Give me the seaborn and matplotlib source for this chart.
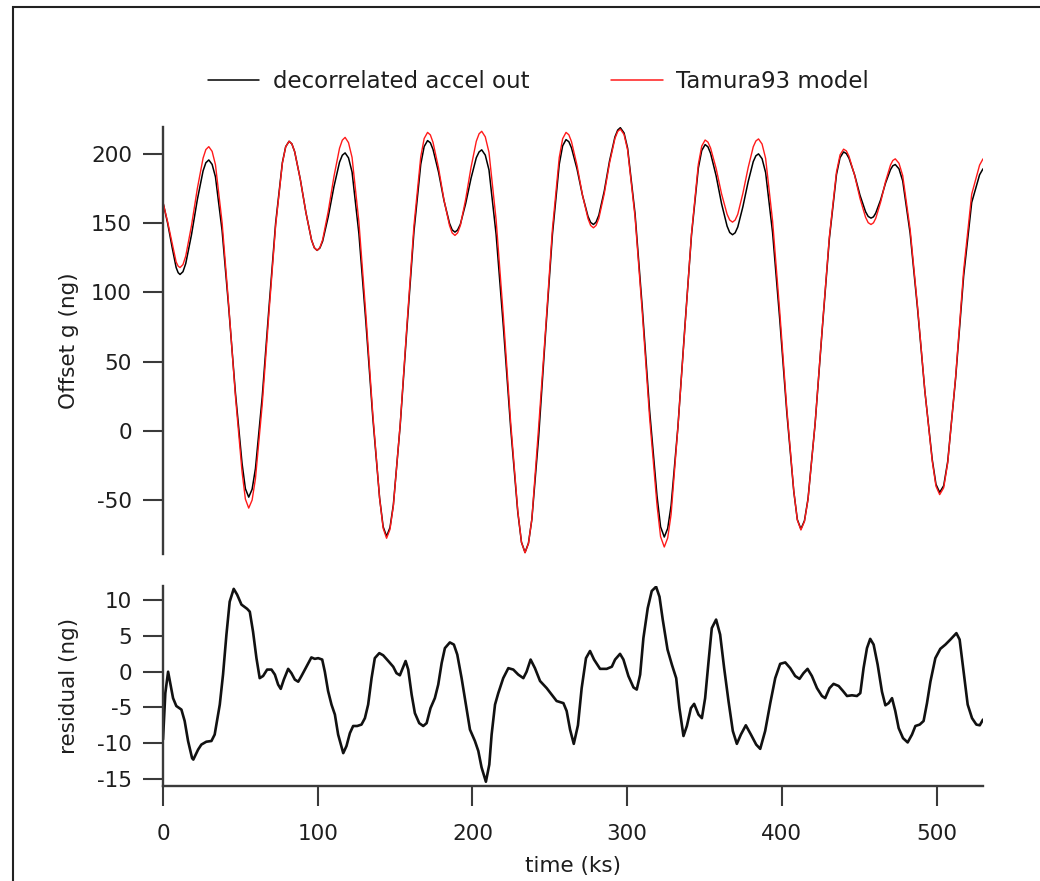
import matplotlib
matplotlib.use("Agg")
import matplotlib.pyplot as plt
from matplotlib.patches import Rectangle
import seaborn as sns
import pandas as pd

# ---- data ----
time_ks = [0, 3, 6, 8.5, 9.8, 11, 12.9, 14.7, 18.4, 22.2, 25.9, 27.7, 29.6,
           31.75, 33.9, 38.2, 42.5, 46.8, 51.1, 53.25, 55.4,
           57.6, 59.75, 64.1, 68.45, 72.8, 77.15, 79.3, 81.5,
           83.3, 85.1, 88.7, 92.4, 96.0, 97.8, 99.6,
           101.4, 103.2, 106.8, 110.5, 114.1, 115.9, 117.7,
           119.9, 122.2, 126.6, 131.1, 135.6, 140.0, 142.3, 144.5,
           146.7, 148.9, 153.3, 157.75, 162.2, 166.6, 168.8, 171.0,
           172.8, 174.5, 178.1, 181.6, 185.2, 186.9, 188.7,
           190.4, 192.2, 195.6, 199.1, 202.5, 204.3, 206.0,
           208.3, 210.7, 215.3, 220.0, 224.7, 229.3, 231.7, 234.0,
           236.2, 238.4, 242.8, 247.25, 251.7, 256.1, 258.3, 260.5,
           262.3, 264.0, 267.6, 271.1, 274.7, 276.4, 278.2,
           279.9, 281.7, 285.2, 288.6, 292.1, 293.9, 295.6,
           298.0, 300.3, 305.1, 309.8, 314.5, 319.3, 321.6, 324.0,
           326.2, 328.4, 332.8, 337.2, 341.6, 346.0, 348.2, 350.4,
           352.2, 353.9, 357.5, 361.0, 364.6, 366.3, 368.1,
           369.8, 371.5, 374.8, 378.2, 381.5, 383.2, 384.9,
           387.2, 389.5, 394.0, 398.6, 403.2, 407.7, 410.0, 412.3,
           414.6, 416.9, 421.5, 426.1, 430.7, 435.3, 437.6, 439.9,
           441.7, 443.4, 447.0, 450.5, 454.1, 455.8, 457.6,
           459.2, 460.7, 463.9, 467.0, 470.2, 471.7, 473.3,
           475.7, 478.1, 482.9, 487.7, 492.4, 497.2, 499.6, 502.0,
           504.6, 507.2, 512.3, 517.5, 522.7, 527.8, 530.0]

accel_out = [165, 150, 132, 118, 114.3, 113, 115.0, 120.9, 141.6, 167.1, 187.8, 193.7, 195.7,
             192.5, 183.5, 144.6, 88.6, 27.7, -23.5, -41.7, -47.8,
             -42.1, -27.2, 24.2, 88.4, 150.1, 193.8, 205.3, 209.2,
             207.3, 201.7, 182.0, 157.6, 137.9, 132.3, 130.4,
             132.1, 137.1, 154.7, 176.5, 194.1, 199.1, 200.8,
             197.2, 187.0, 142.7, 79.0, 9.7, -48.4, -69.2, -76.1,
             -69.8, -53.2, 3.9, 75.4, 144.0, 192.6, 205.4, 209.7,
             208.1, 203.4, 186.9, 166.4, 149.9, 145.2, 143.6,
             145.1, 149.3, 164.1, 182.5, 197.3, 201.5, 203.0,
             199.2, 188.5, 142.0, 75.1, 2.4, -58.6, -80.4, -87.7,
             -81.1, -63.9, -4.2, 70.3, 141.8, 192.5, 205.9, 210.4,
             208.9, 204.5, 189.2, 170.3, 154.9, 150.6, 149.1,
             150.8, 155.8, 173.2, 194.9, 212.3, 217.3, 219.0,
             215.2, 204.2, 156.9, 88.9, 15.0, -47.0, -69.2, -76.6,
             -70.4, -53.9, 2.8, 73.6, 141.6, 189.8, 202.5, 206.8,
             205.2, 200.6, 184.3, 164.2, 147.9, 143.3, 141.7,
             143.1, 147.3, 161.9, 179.9, 194.5, 198.7, 200.1,
             196.6, 186.6, 143.2, 80.9, 13.2, -43.7, -64.0, -70.8,
             -64.8, -49.0, 5.4, 73.5, 138.9, 185.2, 197.4, 201.5,
             200.3, 196.9, 185.0, 170.2, 158.3, 154.9, 153.7,
             154.6, 157.4, 167.1, 179.0, 188.7, 191.5, 192.4,
             189.3, 180.6, 142.7, 88.2, 29.0, -20.7, -38.5, -44.4,
             -39.5, -22, 38, 112, 165, 185, 189.3]

tamura93 = [165, 151, 135, 122, 119.0, 118, 120.1, 126.3, 148.2, 175.1, 197.0, 203.2, 205.3,
            201.9, 192.3, 150.5, 90.5, 25.2, -29.6, -49.2, -55.7,
            -49.9, -34.5, 18.5, 84.7, 148.3, 193.3, 205.2, 209.2,
            207.3, 201.7, 182.0, 157.6, 137.9, 132.3, 130.4,
            132.4, 138.2, 158.6, 183.8, 204.2, 210.0, 212.0,
            208.2, 197.5, 151.2, 84.6, 12.2, -48.6, -70.3, -77.5,
            -71.1, -54.1, 4.6, 77.8, 148.2, 198.0, 211.2, 215.6,
            213.8, 208.5, 189.9, 166.9, 148.3, 143.0, 141.2,
            143.0, 148.4, 167.2, 190.4, 209.2, 214.6, 216.4,
            212.4, 201.2, 152.5, 82.5, 6.4, -57.6, -80.4, -88.0,
            -81.3, -63.7, 3.0, 72.9, 145.8, 197.4, 211.0, 215.6,
            213.9, 209.0, 191.8, 170.5, 153.3, 148.4, 146.7,
            148.4, 153.5, 171.3, 193.4, 211.2, 216.3, 218.0,
            214.1, 202.9, 154.6, 85.2, 9.8, -53.6, -76.3, -83.8,
            -77.3, -60.3, 2.5, 72.0, 142.5, 192.5, 205.7, 210.1,
            208.6, 204.4, 189.6, 171.3, 156.5, 152.3, 150.8,
            152.3, 156.5, 171.6, 190.1, 205.2, 209.4, 210.9,
            207.2, 196.8, 151.6, 86.6, 16.0, -43.3, -64.4, -71.5,
            -65.4, -49.5, 5.5, 74.3, 140.3, 187.0, 199.4, 203.5,
            202.2, 198.3, 184.7, 167.9, 154.3, 150.4, 149.1,
            150.3, 153.6, 165.5, 180.1, 192.0, 195.3, 196.5,
            193.3, 184.4, 145.6, 89.8, 29.2, -21.8, -39.9, -46.0,
            -41, -23, 39, 116, 171, 192, 196.5]

res_time_ks = [0, 1.5, 3.3, 6.5, 8.6, 11.9, 14.0, 16.2, 18.8, 19.6, 22.7, 24.8, 28.0, 31.3,
               33.4, 36.7, 38.8, 41.0, 43.1, 45.7, 47.9, 50.7, 54.4, 56.1, 58.2, 60.4,
               62.5, 64.7, 67.3, 70.1, 72.3, 74.4, 76.1, 78.1, 80.9, 83.0, 85.2, 87.4,
               89.5, 92.7, 95.9, 98.1, 100.3, 102.9, 104.6, 106.7, 108.9, 111.1, 113.2,
               116.5, 118.6, 120.8, 122.9, 125.5, 128.3, 130.5, 132.6, 134.8, 136.9,
               139.8, 142.3, 145.6, 148.8, 150.9, 153.1, 155.3, 156.8, 158.5, 160.7,
               162.8, 165.6, 168.2, 170.4, 172.9, 175.7, 177.9, 180.1, 182.2, 185.4,
               188.0, 190.2, 193.0, 195.8, 198.4, 201.6, 203.8, 205.9, 208.7, 210.9,
               212.4, 214.6, 216.7, 219.9, 223.2, 226.4, 229.6, 232.9, 235.0, 237.6,
               240.4, 243.7, 248.0, 251.2, 254.4, 258.8, 260.9, 263.1, 265.5, 268.2,
               270.6, 273.4, 276.0, 278.6, 282.5, 286.8, 290.1, 292.2, 295.4, 297.6,
               300.8, 304.1, 306.2, 308.4, 310.5, 313.3, 315.9, 318.7, 320.9, 323.0,
               326.1, 328.9, 331.7, 333.8, 336.4, 338.6, 341.2, 343.3, 346.1, 348.3,
               350.4, 352.6, 354.7, 357.5, 360.1, 362.7, 365.5, 368.3, 370.9, 373.5,
               376.7, 380.0, 383.4, 386.0, 389.2, 392.5, 395.7, 398.9, 402.2, 405.4,
               408.6, 411.4, 414.0, 416.6, 419.4, 422.7, 425.9, 428.0, 430.8, 433.4,
               436.7, 439.5, 442.1, 445.3, 448.5, 450.7, 452.8, 455.0, 457.1, 459.3,
               461.9, 464.7, 466.9, 469.0, 471.2, 473.3, 475.5, 478.3, 481.3, 484.1,
               486.3, 489.1, 491.6, 493.8, 496.0, 499.2, 502.4, 505.7, 508.9, 512.8,
               514.9, 517.5, 520.1, 522.9, 525.7, 527.9, 530.0]

residual = [-9.5, -3.0, 0.0, -3.7, -4.8, -5.3, -6.9, -9.7, -12.1, -12.3, -10.9, -10.2, -9.8, -9.7,
            -8.8, -4.6, -0.4, 5.2, 9.8, 11.6, 10.8, 9.4, 8.8, 8.4, 5.6, 1.9,
            -0.9, -0.6, 0.3, 0.3, -0.4, -1.8, -2.4, -1.1, 0.4, -0.2, -1.1, -1.4,
            -0.6, 0.7, 2.0, 1.8, 1.9, 1.7, 0.0, -2.7, -4.6, -6.0, -8.8,
            -11.4, -10.4, -8.6, -7.6, -7.6, -7.4, -6.5, -4.6, -0.9, 1.9,
            2.6, 2.3, 1.5, 0.7, -0.2, -0.5, 0.7, 1.5, 0.3, -3.2,
            -5.8, -7.2, -7.6, -7.2, -5.1, -3.7, -1.8, 1.2, 3.3, 4.1,
            3.8, 2.4, -0.9, -4.6, -8.1, -9.7, -11.1, -13.4, -15.4, -13.0,
            -8.8, -4.6, -3.0, -0.9, 0.5, 0.3, -0.4, -0.9, 0.0, 1.7,
            0.5, -1.3, -2.3, -3.2, -4.1, -4.4, -5.5, -8.1, -10.1, -7.5,
            -2.3, 1.9, 2.9, 1.7, 0.4, 0.4, 0.7, 1.7, 2.5, 1.7,
            -0.6, -2.2, -2.5, -0.4, 4.7, 8.9, 11.3, 11.9, 10.5, 7.3,
            3.1, 1.0, -0.9, -5.1, -9.0, -7.6, -5.1, -4.5, -6.0, -6.5,
            -3.7, 1.4, 6.1, 7.3, 5.2, 0.5, -4.1, -8.3, -10.1, -8.8,
            -7.5, -8.8, -10.2, -10.8, -8.3, -4.4, -0.9, 1.1, 1.3, 0.5,
            -0.6, -1.0, -0.2, 0.4, -0.6, -2.3, -3.4, -3.7, -2.3, -1.7,
            -2.0, -2.7, -3.4, -3.3, -3.4, -3.0, 0.5, 3.3, 4.6, 3.8,
            1.0, -2.8, -4.7, -4.4, -3.7, -5.5, -7.9, -9.3, -9.9, -8.8,
            -7.6, -7.4, -6.9, -4.4, -1.4, 1.9, 3.2, 3.8, 4.5, 5.4,
            4.5, 0.0, -4.6, -6.5, -7.4, -7.5, -6.7]

offset_ticks = [-50, 0, 50, 100, 150, 200]
residual_ticks = [-15, -10, -5, 0, 5, 10]
time_ticks = [0, 100, 200, 300, 400, 500]
series_labels = ["decorrelated accel out", "Tamura93 model"]

# ---- styling ----
sns.set_style("ticks")
plt.rcParams["font.family"] = ["DejaVu Sans"]
AX_COL = "#3a3a3a"
TXT_COL = "#1e1e1e"
FS = 15.5

W, H = 1040, 881
fig = plt.figure(figsize=(W / 100, H / 100), dpi=100)
ax1 = fig.add_axes([163 / W, 1 - 553.5 / H, 820 / W, 426.5 / H])
ax2 = fig.add_axes([163 / W, 1 - 786 / H, 820 / W, 200 / H])

top = pd.DataFrame({"t": time_ks, "out": accel_out, "model": tamura93})
res = pd.DataFrame({"t": res_time_ks, "res": residual})

sns.lineplot(data=top, x="t", y="out", ax=ax1, color="black", lw=1.1,
             estimator=None, label=series_labels[0])
sns.lineplot(data=top, x="t", y="model", ax=ax1, color="#ff1a1a", lw=1.0,
             estimator=None, label=series_labels[1])
sns.lineplot(data=res, x="t", y="res", ax=ax2, color="#111111", lw=1.9,
             estimator=None)

handles, labels = ax1.get_legend_handles_labels()
if ax1.get_legend() is not None:
    ax1.get_legend().remove()
if ax2.get_legend() is not None:
    ax2.get_legend().remove()

# top panel
ax1.set_xlim(0, 530)
ax1.set_ylim(-88.5, 219.5)
ax1.set_yticks(offset_ticks)
ax1.set_yticklabels([str(v) for v in offset_ticks])
ax1.set_xticks([])
for s in ["top", "right", "bottom"]:
    ax1.spines[s].set_visible(False)
ax1.set_xlabel("")
ax1.set_ylabel("Offset g (ng)", fontsize=FS, color=TXT_COL)
ax1.yaxis.set_label_coords(-0.102, 0.5)

# bottom panel
ax2.set_xlim(0, 530)
ax2.set_ylim(-16, 12)
ax2.set_yticks(residual_ticks)
ax2.set_yticklabels([str(v) for v in residual_ticks])
ax2.set_xticks(time_ticks)
ax2.set_xticklabels([str(v) for v in time_ticks])
for s in ["top", "right"]:
    ax2.spines[s].set_visible(False)
ax2.set_ylabel("residual (ng)", fontsize=FS, color=TXT_COL)
ax2.yaxis.set_label_coords(-0.102, 0.5)
ax2.set_xlabel("time (ks)", fontsize=FS, color=TXT_COL)
ax2.xaxis.set_label_coords(0.5, -0.35)

for ax in (ax1, ax2):
    for s in ax.spines.values():
        s.set_color(AX_COL)
        s.set_linewidth(1.7)
    ax.tick_params(axis="both", direction="out", length=14.4, width=1.5,
                   color=AX_COL, labelcolor=TXT_COL, labelsize=FS)
    ax.tick_params(axis="y", pad=8)
    ax.tick_params(axis="x", pad=13)
    ax.set_facecolor("white")

leg = fig.legend(handles, labels, loc="center", ncol=2, frameon=False,
                 bbox_to_anchor=(538.5 / W, 1 - 82 / H), fontsize=16.5,
                 handlelength=2.23, handletextpad=0.61, columnspacing=3.58,
                 labelcolor=TXT_COL)
for ln in leg.get_lines():
    ln.set_linewidth(1.1)

# outer frame (cropped at right and bottom like the reference)
fig.patches.append(Rectangle((13 / W, -0.2), 1.2, 1.2 - 7 / H, transform=fig.transFigure,
                             fill=False, edgecolor="#222222", lw=1.5, clip_on=False))

fig.savefig("out.png", dpi=100, facecolor="white")
